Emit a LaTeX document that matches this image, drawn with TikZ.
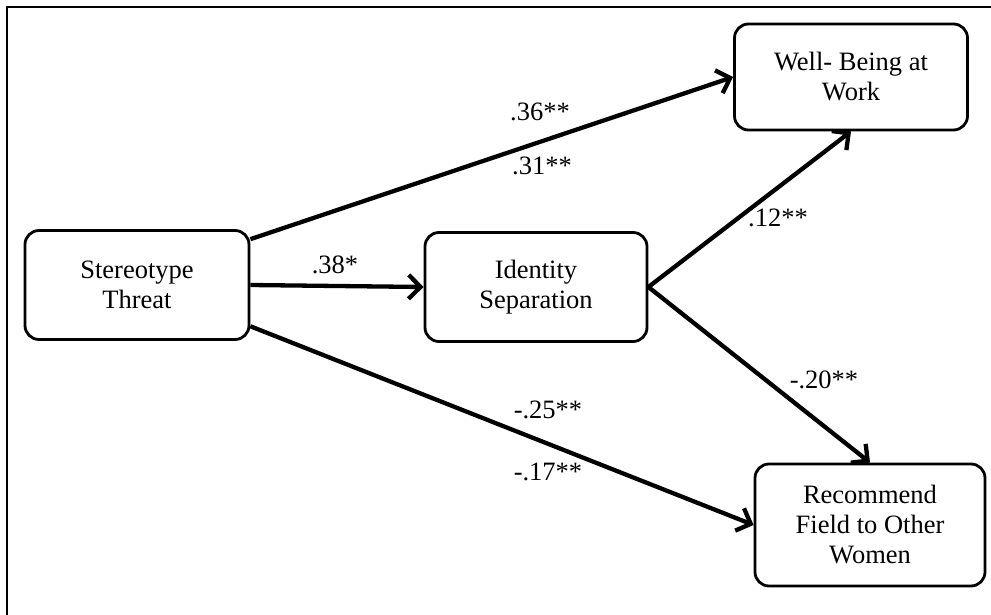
\documentclass[tikz,border=0pt]{standalone}
\usepackage{fontspec}
\setmainfont{Liberation Serif}
\usetikzlibrary{arrows.meta}

\begin{document}
\begin{tikzpicture}[
    x=1pt, y=-1pt,
    box/.style={draw, line width=2.8pt, rounded corners=14pt, align=center,
        inner sep=0pt, font=\fontsize{26.5}{30}\selectfont},
    link/.style={line width=4.3pt, -{Straight Barb[length=12pt,width=24pt]}},
    coef/.style={font=\fontsize{26.5}{30}\selectfont}
]

% page and frame
\useasboundingbox (0,0) rectangle (991,615);
\draw[line width=2.5pt] (7,615) -- (7,7) -- (991,7);

% =========================
% BOXES
% =========================
\node[box, minimum width=224pt, minimum height=109pt] (threat) at (137,285)
    {Stereotype\\Threat};
\node[box, minimum width=222pt, minimum height=109pt] (ident) at (536,287)
    {Identity\\Separation};
\node[box, minimum width=233pt, minimum height=106pt] (well) at (851,77)
    {Well- Being at\\Work};
\node[box, minimum width=230pt, minimum height=122pt] (recom) at (870,525)
    {Recommend\\Field to Other\\Women};

% =========================
% PATHS
% =========================
\draw[link] (threat.22) -- (well.west);
\draw[link] (threat.east) -- (ident.west);
\draw[link] (threat.-20) -- (recom.west);
\draw[link] (ident.east) -- (well.south);
\draw[link] (ident.east) -- (recom.north);

% coefficients
\node[coef] (c36) at (540,112) {.36**};
\node[coef] (c31) at (542,166) {.31**};
\node[coef] (c38) at (335,265) {.38*};
\node[coef] (c12) at (778,218) {.12**};
\node[coef] (c20) at (824,380) {-.20**};
\node[coef] (c25) at (548,410) {-.25**};
\node[coef] (c17) at (548,472) {-.17**};
\end{tikzpicture}
\end{document}
